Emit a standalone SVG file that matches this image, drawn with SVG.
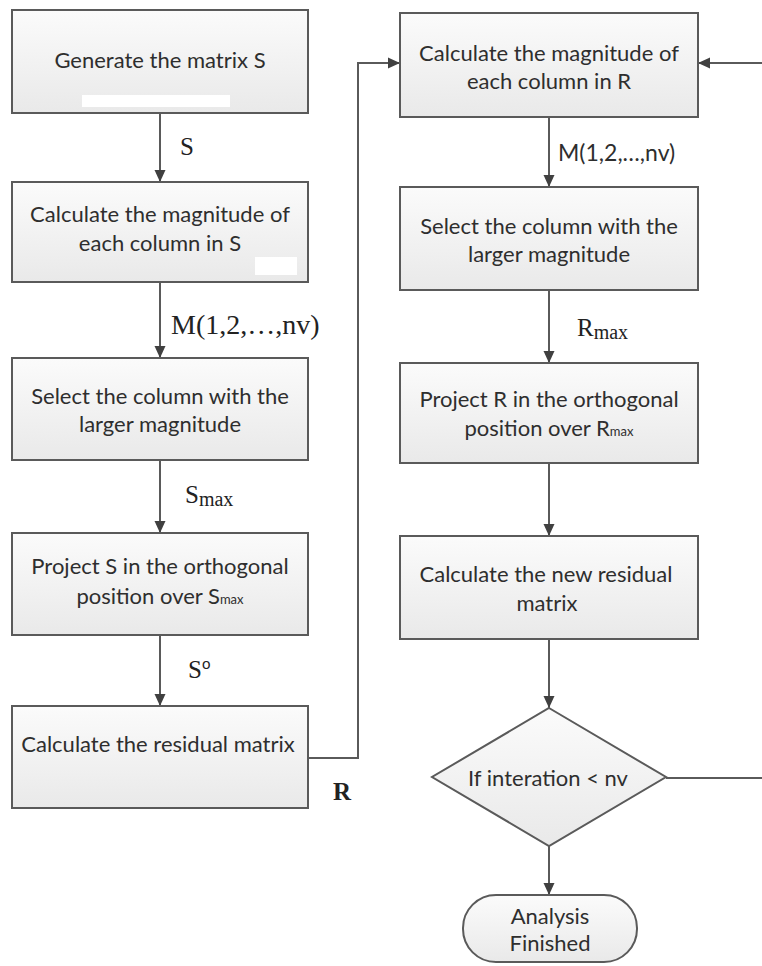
<svg xmlns="http://www.w3.org/2000/svg" width="762" height="966" viewBox="0 0 762 966">
  <defs>
    <linearGradient id="fillG" x1="0" y1="0" x2="0" y2="1">
      <stop offset="0" stop-color="#fbfbfb"/>
      <stop offset="1" stop-color="#e9e9e9"/>
    </linearGradient>
    <marker id="arr" viewBox="0 0 12 12" refX="12" refY="6" markerWidth="12" markerHeight="12" markerUnits="userSpaceOnUse" orient="auto">
      <path d="M0,0.5 L12,6 L0,11.5 Z" fill="#404040"/>
    </marker>
    <style>
      .box { fill: url(#fillG); stroke: #5a5a5a; stroke-width: 2; }
      .t { font-family: Lato, "Open Sans", "Liberation Sans", sans-serif; font-size: 22px; fill: #2e2e2e; text-anchor: middle; dominant-baseline: central; }
      .lbl { font-family: "Liberation Serif", "DejaVu Serif", serif; font-size: 25px; fill: #222; }
      .lbl.big { font-size: 28px; }
      .lbls { font-family: Lato, "Open Sans", "Liberation Sans", sans-serif; font-size: 23px; fill: #2e2e2e; }
      .conn { stroke: #5a5a5a; stroke-width: 2; fill: none; marker-end: url(#arr); }
      .erase { fill: #ffffff; }
    </style>
  </defs>
  <rect width="762" height="966" fill="#ffffff"/>

  <!-- connectors -->
  <g id="connectors">
    <path class="conn" d="M160,113 V182"/>
    <path class="conn" d="M160,282 V358"/>
    <path class="conn" d="M160,460 V533"/>
    <path class="conn" d="M160,635 V706"/>
    <path class="conn" d="M309,758 H358 V63 H400"/>
    <path class="conn" d="M549,117 V187"/>
    <path class="conn" d="M549,290 V363"/>
    <path class="conn" d="M549,463 V536"/>
    <path class="conn" d="M549,639 V708"/>
    <path class="conn" d="M549,846 V895"/>
    <path class="conn" d="M666,778 H765 V63 H698"/>
  </g>

  <!-- connector labels -->
  <g id="labels">
    <text class="lbl" x="180" y="155">S</text>
    <text class="lbl big" x="171" y="334">M(1,2,…,nv)</text>
    <text class="lbl" x="185" y="503">S<tspan font-size="20" dy="3">max</tspan></text>
    <text class="lbl" x="188" y="678">S<tspan font-family="Lato, sans-serif" font-size="15" dy="-9">o</tspan></text>
    <text class="lbl" x="333" y="800" font-weight="bold">R</text>
    <text class="lbls" x="558" y="161">M(1,2,…,nv)</text>
    <text class="lbl" x="577" y="336">R<tspan font-size="20" dy="3">max</tspan></text>
  </g>

  <!-- left column -->
  <g id="n-generate">
    <rect class="box" x="12" y="10" width="296" height="103"/>
    <rect class="erase" x="82" y="95" width="148" height="12"/>
    <text class="t" x="160" y="59">Generate the matrix S</text>
  </g>
  <g id="n-magnitude-s">
    <rect class="box" x="12" y="182" width="296" height="100"/>
    <rect class="erase" x="255" y="257" width="42" height="18"/>
    <text class="t" x="160" y="213">Calculate the magnitude of</text>
    <text class="t" x="160" y="242">each column in S</text>
  </g>
  <g id="n-select-s">
    <rect class="box" x="12" y="358" width="296" height="102"/>
    <text class="t" x="160" y="395">Select the column with the</text>
    <text class="t" x="160" y="423">larger magnitude</text>
  </g>
  <g id="n-project-s">
    <rect class="box" x="12" y="533" width="296" height="102"/>
    <text class="t" x="160" y="565">Project S in the orthogonal</text>
    <text class="t" x="160" y="595">position over S<tspan font-size="13" dy="4">max</tspan></text>
  </g>
  <g id="n-residual">
    <rect class="box" x="12" y="706" width="296" height="102"/>
    <text class="t" x="158" y="743">Calculate the residual matrix</text>
  </g>

  <!-- right column -->
  <g id="n-magnitude-r">
    <rect class="box" x="400" y="13" width="298" height="104"/>
    <text class="t" x="549" y="52">Calculate the magnitude of</text>
    <text class="t" x="549" y="80">each column in R</text>
  </g>
  <g id="n-select-r">
    <rect class="box" x="400" y="187" width="298" height="103"/>
    <text class="t" x="549" y="225">Select the column with the</text>
    <text class="t" x="549" y="253">larger magnitude</text>
  </g>
  <g id="n-project-r">
    <rect class="box" x="400" y="363" width="298" height="100"/>
    <text class="t" x="549" y="398">Project R in the orthogonal</text>
    <text class="t" x="549" y="427">position over R<tspan font-size="13" dy="4">max</tspan></text>
  </g>
  <g id="n-new-residual">
    <rect class="box" x="400" y="536" width="298" height="103"/>
    <text class="t" x="546" y="573">Calculate the new residual</text>
    <text class="t" x="547" y="602">matrix</text>
  </g>
  <g id="n-decision">
    <polygon class="box" points="549,708 666,777 549,846 432,777"/>
    <text class="t" x="548" y="777">If interation &lt; nv</text>
  </g>
  <g id="n-finished">
    <rect class="box" x="463" y="895" width="174" height="67" rx="33" ry="33"/>
    <text class="t" x="550" y="915">Analysis</text>
    <text class="t" x="550" y="942">Finished</text>
  </g>
</svg>
